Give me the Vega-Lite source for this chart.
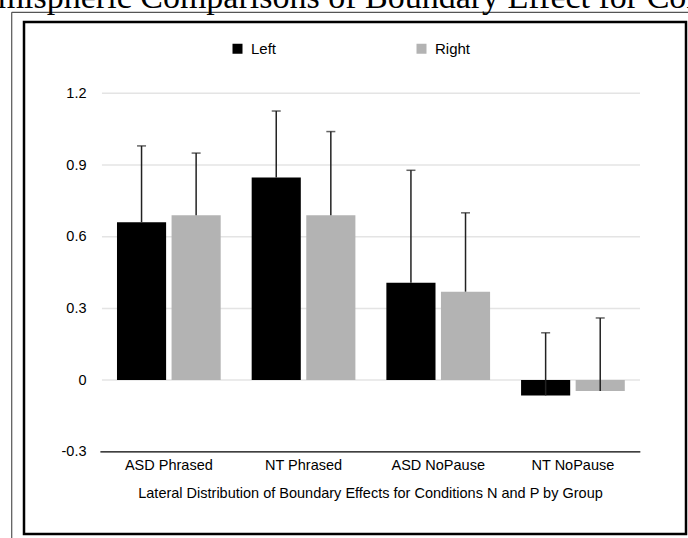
{
  "$schema": "https://vega.github.io/schema/vega-lite/v6.json",
  "width": 662,
  "height": 512,
  "autosize": {"type": "none"},
  "padding": {"left": 24, "top": 22, "right": 2, "bottom": 4},
  "background": "white",
  "title": {
    "text": "Hemispheric Comparisons of Boundary Effect for Conditions N and P",
    "font": "Liberation Serif",
    "fontSize": 34,
    "fontWeight": "normal",
    "color": "black",
    "anchor": "start",
    "frame": "group",
    "dx": -66,
    "dy": 39,
    "offset": 9,
    "baseline": "alphabetic"
  },
  "config": {
    "view": {"stroke": "black", "strokeWidth": 2.5},
    "font": "Liberation Sans",
    "axis": {"labelFont": "Liberation Sans", "titleFont": "Liberation Sans", "labelColor": "black", "titleColor": "black"},
    "legend": {"labelFont": "Liberation Sans", "labelColor": "black"}
  },
  "datasets": {
    "bars": [
      {"group": "ASD Phrased", "side": "Left", "mean": 0.661, "upper": 0.98},
      {"group": "ASD Phrased", "side": "Right", "mean": 0.69, "upper": 0.95},
      {"group": "NT Phrased", "side": "Left", "mean": 0.848, "upper": 1.126},
      {"group": "NT Phrased", "side": "Right", "mean": 0.69, "upper": 1.04},
      {"group": "ASD NoPause", "side": "Left", "mean": 0.407, "upper": 0.878},
      {"group": "ASD NoPause", "side": "Right", "mean": 0.37, "upper": 0.70},
      {"group": "NT NoPause", "side": "Left", "mean": -0.064, "upper": 0.198},
      {"group": "NT NoPause", "side": "Right", "mean": -0.046, "upper": 0.26}
    ],
    "grid": [{"tick": 0}, {"tick": 0.3}, {"tick": 0.6}, {"tick": 0.9}, {"tick": 1.2}],
    "axisline": [{"tick": -0.3}],
    "page": [{"top": 1.539, "bottom": -0.75}]
  },
  "layer": [
    {
      "data": {"name": "page"},
      "mark": {"type": "rule", "color": "#555555", "strokeWidth": 1.2},
      "encoding": {
        "x": {"datum": "ASD Phrased", "type": "nominal", "bandPosition": -1.015},
        "y": {"field": "top", "type": "quantitative"},
        "y2": {"field": "bottom"}
      }
    },
    {
      "data": {"name": "page"},
      "mark": {"type": "rule", "color": "#555555", "strokeWidth": 1.2},
      "encoding": {
        "x": {"datum": "ASD Phrased", "type": "nominal", "bandPosition": -1.015},
        "x2": {"datum": "NT NoPause", "bandPosition": 2},
        "y": {"field": "top", "type": "quantitative"}
      }
    },
    {
      "data": {"name": "grid"},
      "mark": {"type": "rule", "color": "#e4e4e4", "strokeWidth": 1.5},
      "encoding": {
        "y": {"field": "tick", "type": "quantitative"},
        "x": {"datum": "ASD Phrased", "type": "nominal", "bandPosition": -0.145},
        "x2": {"datum": "NT NoPause", "bandPosition": 1.147}
      }
    },
    {
      "data": {"name": "axisline"},
      "mark": {"type": "rule", "color": "black", "strokeWidth": 1.3},
      "encoding": {
        "y": {"field": "tick", "type": "quantitative"},
        "x": {"datum": "ASD Phrased", "type": "nominal", "bandPosition": -0.16},
        "x2": {"datum": "NT NoPause", "bandPosition": 1.15}
      }
    },
    {
      "data": {"name": "bars"},
      "mark": {"type": "bar"},
      "encoding": {
        "x": {
          "field": "group",
          "type": "nominal",
          "sort": ["ASD Phrased", "NT Phrased", "ASD NoPause", "NT NoPause"],
          "scale": {"domain": ["ASD Phrased", "NT Phrased", "ASD NoPause", "NT NoPause"], "paddingInner": 0.23, "paddingOuter": 0.5724, "align": 0.603},
          "axis": {
            "orient": "bottom",
            "offset": -82,
            "domain": false,
            "ticks": false,
            "grid": false,
            "bandPosition": 0.5,
            "labelAlign": "center",
            "labelAngle": 0,
            "labelFontSize": 14.5,
            "labelPadding": 13,
            "title": "Lateral Distribution of Boundary Effects for Conditions N and P by Group",
            "titleFontSize": 14.5,
            "titleFontWeight": "normal",
            "titlePadding": 15,
            "titleX": 346
          }
        },
        "xOffset": {"field": "side", "type": "nominal", "scale": {"paddingInner": 0.1, "paddingOuter": 0}},
        "y": {
          "field": "mean",
          "type": "quantitative",
          "scale": {"domain": [-0.644, 1.4985], "nice": false, "zero": false},
          "axis": {
            "orient": "left",
            "offset": -78,
            "values": [-0.3, 0, 0.3, 0.6, 0.9, 1.2],
            "domain": false,
            "ticks": false,
            "grid": false,
            "labelFontSize": 14.5,
            "labelPadding": 16,
            "labelExpr": "datum.value < 0 ? '-' + format(-datum.value, '.1f') : (datum.value == 0 ? '0' : format(datum.value, '.1f'))",
            "title": null
          }
        },
        "y2": {"datum": 0},
        "color": {
          "field": "side",
          "type": "nominal",
          "scale": {"domain": ["Left", "Right"], "range": ["#000000", "#b3b3b3"]},
          "legend": {
            "title": null,
            "orient": "none",
            "direction": "horizontal",
            "legendX": 206,
            "legendY": 19,
            "symbolType": "square",
            "symbolSize": 100,
            "symbolStrokeWidth": 0,
            "labelFontSize": 15,
            "labelOffset": 6,
            "columnPadding": 137,
            "padding": 0
          }
        }
      }
    },
    {
      "data": {"name": "bars"},
      "mark": {"type": "rule", "color": "#222222", "strokeWidth": 1.5},
      "encoding": {
        "x": {"field": "group", "type": "nominal"},
        "xOffset": {"field": "side", "type": "nominal"},
        "y": {"field": "mean", "type": "quantitative"},
        "y2": {"field": "upper"}
      }
    },
    {
      "data": {"name": "bars"},
      "mark": {"type": "tick", "color": "#222222", "thickness": 1.5, "size": 9},
      "encoding": {
        "x": {"field": "group", "type": "nominal"},
        "xOffset": {"field": "side", "type": "nominal"},
        "y": {"field": "upper", "type": "quantitative"}
      }
    }
  ]
}
